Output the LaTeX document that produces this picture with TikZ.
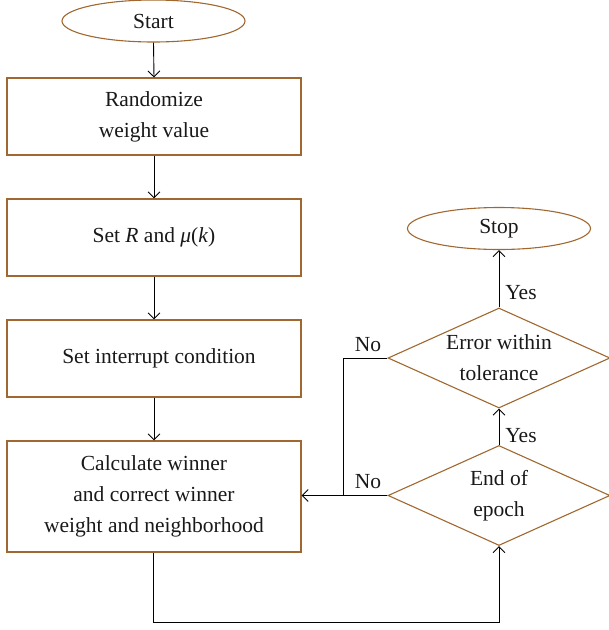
\documentclass[tikz,border=0pt]{standalone}
\usepackage{fontspec}
\setmainfont{Liberation Serif}
\usetikzlibrary{shapes.geometric,arrows.meta}
\definecolor{brd}{RGB}{160,104,48}
\definecolor{txt}{RGB}{25,25,25}
\tikzset{
  base/.style={draw=brd, line width=1.1pt, text=txt, font=\fontsize{21.5}{31}\selectfont, align=center, inner sep=0pt},
  procbox/.style={base, rectangle, minimum width=294pt},
  term/.style={base, ellipse, minimum width=183pt, minimum height=42pt},
  decide/.style={base, diamond, minimum width=222pt, minimum height=100pt, aspect=2.22},
  conn/.style={draw=black, line width=0.9pt, -{Straight Barb[length=6pt,width=12pt,line width=0.9pt]}},
  plain/.style={draw=black, line width=0.9pt},
  lbl/.style={text=txt, font=\fontsize{21.5}{24}\selectfont, inner sep=0pt}
}
\begin{document}
\begin{tikzpicture}[x=1pt,y=1pt]
\useasboundingbox (0,0) rectangle (609,-630);
\node[term] (start) at (153.5,-21) {Start};
\node[procbox, minimum height=77pt] (b1) at (154,-116.5) {Randomize\\weight value};
\node[procbox, minimum height=77pt] (b2) at (154,-237.5) {Set \textit{R} and \textit{μ}(\textit{k})};
\node[procbox, minimum height=77pt] (b3) at (154,-358.5) {\hspace*{10pt}Set interrupt condition};
\node[procbox, minimum height=111pt] (b4) at (154,-496.5) {Calculate winner\\and correct winner\\weight and neighborhood};
\node[decide] (d1) at (499,-495.5) {End of\\epoch};
\node[decide] (d2) at (499,-358) {Error within\\tolerance};
\node[term] (stop) at (499,-228.5) {Stop};
\coordinate (j1) at (343,-358);
\coordinate (j2) at (343,-495.5);
\coordinate (c1) at (153,-622);
\coordinate (c2) at (499,-622);

\draw[conn] (start.south) -- (b1.north);
\draw[conn] (b1.south) -- (b2.north);
\draw[conn] (b2.south) -- (b3.north);
\draw[conn] (b3.south) -- (b4.north);
\draw[conn] (d1.west) -- (d1.west -| b4.east);
\draw[plain] (d2.west) -- (j1) -- (j2);
\draw[conn] (d1.north) -- (d2.south);
\draw[conn] (d2.north) -- (stop.south);
\draw[conn] (b4.south -| c1) -- (c1) -- (c2) -- (d1.south);

\node[lbl] (y1) at (521,-293) {Yes};
\node[lbl] (y2) at (521,-436) {Yes};
\node[lbl] (n1) at (368,-345) {No};
\node[lbl] (n2) at (368,-482) {No};
\end{tikzpicture}
\end{document}
